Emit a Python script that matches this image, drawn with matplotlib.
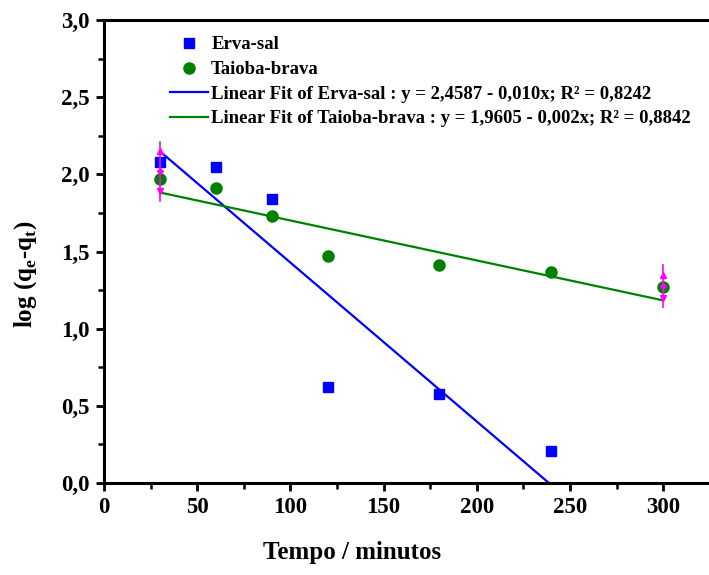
import numpy as np
import matplotlib.pyplot as plt
from matplotlib.ticker import MultipleLocator, FuncFormatter

# dados
tempo_erva = [30, 60, 90, 120, 180, 240]
log_erva = [2.08, 2.05, 1.84, 0.62, 0.58, 0.21]
tempo_taioba = [30, 60, 90, 120, 180, 240, 300]
log_taioba = [1.97, 1.91, 1.73, 1.47, 1.41, 1.37, 1.27]

# ajustes lineares (coeficientes da legenda)
a_erva, b_erva = 2.4587, -0.0103
a_taioba, b_taioba = 1.9605, -0.00259
x_fit_erva = [30, 240]
x_fit_taioba = [30, 300]

# cursores magenta do Origin
cursor_x = [30, 300]
cursor_y_baixo = [1.83, 1.14]
cursor_y_cima = [2.21, 1.41]

plt.rcParams['font.family'] = ['Liberation Serif', 'DejaVu Serif']
plt.rcParams['font.weight'] = 'bold'

fig = plt.figure(figsize=(7.09, 5.75), dpi=100)
ax = fig.add_axes([0.1467, 0.16, 0.8533, 0.805])

ax.plot(tempo_erva, log_erva, 's', color='#0000ff', markersize=7, label='Erva-sal', zorder=3)
ax.plot(tempo_taioba, log_taioba, 'o', color='#008000', markersize=8, label='Taioba-brava', zorder=3)

xe = np.array(x_fit_erva)
xt = np.array(x_fit_taioba)
ax.plot(xe, a_erva + b_erva * xe, color='#0000ff', lw=1.6,
        label='Linear Fit of Erva-sal : y = 2,4587 - 0,010x; R² = 0,8242')
ax.plot(xt, a_taioba + b_taioba * xt, color='#008000', lw=1.6,
        label='Linear Fit of Taioba-brava : y = 1,9605 - 0,002x; R² = 0,8842')

for cx, yb, yc in zip(cursor_x, cursor_y_baixo, cursor_y_cima):
    ax.plot([cx, cx], [yb, yc], color='#ff00ff', lw=1.2, zorder=4)
    ax.plot([cx], [yc - 0.06], '^', color='#ff00ff', markersize=5, zorder=4)
    ax.plot([cx], [yb + 0.06], 'v', color='#ff00ff', markersize=5, zorder=4)
    ax.plot([cx], [(yb + yc) / 2], 'D', color='#ff00ff', markersize=3, zorder=4)

ax.set_xlim(0, 324.6)
ax.set_ylim(0, 3.0)
ax.xaxis.set_major_locator(MultipleLocator(50))
ax.xaxis.set_minor_locator(MultipleLocator(25))
ax.yaxis.set_major_locator(MultipleLocator(0.5))
ax.yaxis.set_minor_locator(MultipleLocator(0.25))
ax.yaxis.set_major_formatter(FuncFormatter(lambda v, p: f'{v:.1f}'.replace('.', ',')))

for s in ax.spines.values():
    s.set_linewidth(2.2)
ax.spines['right'].set_visible(False)
ax.tick_params(which='major', direction='out', length=6, width=2, labelsize=16.5, pad=4)
ax.tick_params(which='minor', direction='out', length=4, width=1.8)
ax.tick_params(axis='both', which='both', top=False, right=False)

ax.set_xlabel('Tempo / minutos', fontsize=18, fontweight='bold')
ax.set_ylabel('log (q$_\\mathregular{e}$-q$_\\mathregular{t}$)', fontsize=18, fontweight='bold')
ax.xaxis.set_label_coords(0.41, -0.125)
ax.yaxis.set_label_coords(-0.108, 0.45)

ax.legend(loc='upper left', bbox_to_anchor=(0.109, 0.965), frameon=False,
          prop={'family': 'Liberation Serif', 'weight': 'bold', 'size': 13.5},
          handlelength=2.05, handletextpad=0.15, labelspacing=0.4,
          borderaxespad=0, borderpad=0)

fig.savefig('out.png', dpi=100)
